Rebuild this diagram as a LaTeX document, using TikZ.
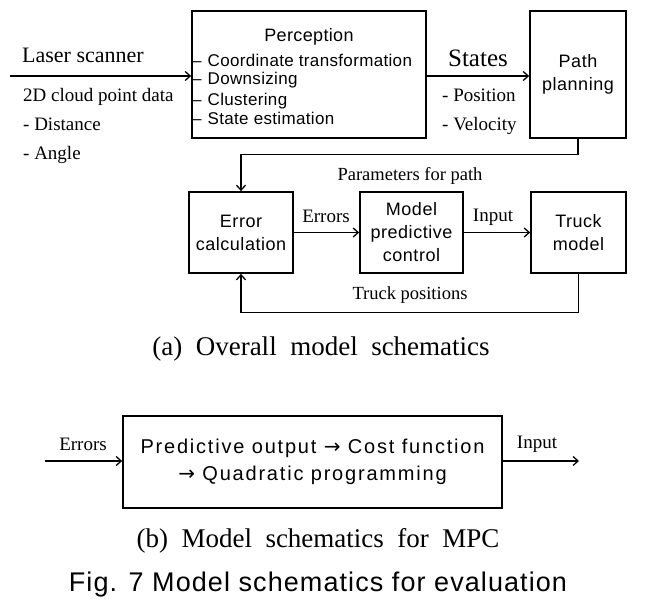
\documentclass[tikz,border=0pt]{standalone}
\usepackage{fontspec}
\setmainfont{Liberation Serif}
\newfontfamily\gulbox[LetterSpace=3]{Liberation Sans}
\newfontfamily\gulper[LetterSpace=2]{Liberation Sans}
\newfontfamily\gulmpc[LetterSpace=9]{Liberation Sans}
\newfontfamily\gulfig[LetterSpace=4]{Liberation Sans}
\newfontfamily\arw{DejaVu Sans}
\usetikzlibrary{arrows.meta}
\tikzset{
  box/.style={draw, line width=1.7pt, inner sep=0pt, align=center},
  wire/.style={line width=1.3pt},
  conn/.style={wire, -{Straight Barb[length=5pt,width=9pt,line width=1.3pt]}},
  lab/.style={inner sep=0pt, font=\fontsize{19}{22}\selectfont},
  sbox/.style={font=\gulbox\fontsize{18}{23}\selectfont},
  plist/.style={inner sep=0pt, anchor=base west, font=\gulper\fontsize{17}{20}\selectfont},
  capt/.style={inner sep=0pt, anchor=base, font=\fontsize{27}{30}\selectfont},
}
\begin{document}
\begin{tikzpicture}[x=1pt, y=-1pt]
\path[use as bounding box] (0,0) rectangle (646,601);

% ---------- (a) ----------
\node[box, minimum width=234pt, minimum height=127pt] (perc) at (309,74.5) {};
\node[box, sbox, minimum width=96pt, minimum height=127pt] (path) at (578,74.5) {Path\\planning};
\node[box, sbox, minimum width=104pt, minimum height=81pt] (err) at (241,232.5) {Error\\calculation};
\node[box, sbox, minimum width=103pt, minimum height=81pt] (mpc) at (411.5,232.5) {Model\\predictive\\control};
\node[box, sbox, minimum width=95pt, minimum height=81pt] (truck) at (578.5,232.5) {Truck\\model};

\node[inner sep=0pt, anchor=base, font=\gulper\fontsize{18}{20}\selectfont] (ptitle) at (309,42) {Perception};
\node[plist] (p1) at (192,67) {–\hspace{6pt}Coordinate transformation};
\node[plist] (p2) at (192,85) {–\hspace{6pt}Downsizing};
\node[plist] (p3) at (192,106) {–\hspace{6pt}Clustering};
\node[plist] (p4) at (192,125) {–\hspace{6pt}State estimation};

\coordinate (lz) at (10,76);
\draw[conn] (lz) -- (lz -| perc.west);
\node[lab, anchor=base west, font=\fontsize{22}{24}\selectfont] (laser) at (22,63) {Laser scanner};
\node[lab, anchor=base west] (cloud) at (23,102) {2D cloud point data};
\node[lab, anchor=base west] (dist) at (23,131) {- Distance};
\node[lab, anchor=base west] (ang) at (23,160) {- Angle};

\draw[conn] (perc.east |- lz) -- (path.west |- lz);
\node[lab, anchor=base, font=\fontsize{25}{27}\selectfont] (states) at (478,67) {States};
\node[lab, anchor=base west] (pos) at (442,102) {- Position};
\node[lab, anchor=base west] (vel) at (442,131) {- Velocity};

\draw[conn] (path.south) -- ++(0,16) -| (err.north);
\node[lab, anchor=base, font=\fontsize{18.5}{20}\selectfont] (param) at (410,181) {Parameters for path};

\draw[conn] (err.east) -- (mpc.west);
\node[lab, anchor=base] (errl) at (326,223) {Errors};
\draw[conn] (mpc.east) -- (truck.west);
\node[lab, anchor=base] (inl) at (493,222) {Input};

\draw[conn] (truck.south) -- ++(0,39) -| (err.south);
\node[lab, anchor=base, font=\fontsize{18.5}{20}\selectfont] (tpos) at (410,300) {Truck positions};

\node[capt] (capa) at (321,356) {(a)\ \ Overall\ \ model\ \ schematics};

% ---------- (b) ----------
\node[box, minimum width=379pt, minimum height=92pt, font=\gulmpc\fontsize{20}{27}\selectfont] (mpcb) at (312.5,462)
  {Predictive output {\arw →} Cost function\\{\arw →} Quadratic programming};
\coordinate (bin) at (45,461);
\coordinate (bout) at (579,461);
\draw[conn] (bin) -- (bin -| mpcb.west);
\draw[conn] (mpcb.east |- bout) -- (bout);
\node[lab, anchor=base] (errb) at (83,451) {Errors};
\node[lab, anchor=base] (inb) at (537,449) {Input};

\node[capt] (capb) at (318,548) {(b)\ \ Model\ \ schematics\ \ for\ \ MPC};
\node[inner sep=0pt, anchor=base, font=\gulfig\fontsize{27}{30}\selectfont] (fig) at (318,592) {Fig. 7 Model schematics for evaluation};
\end{tikzpicture}
\end{document}
